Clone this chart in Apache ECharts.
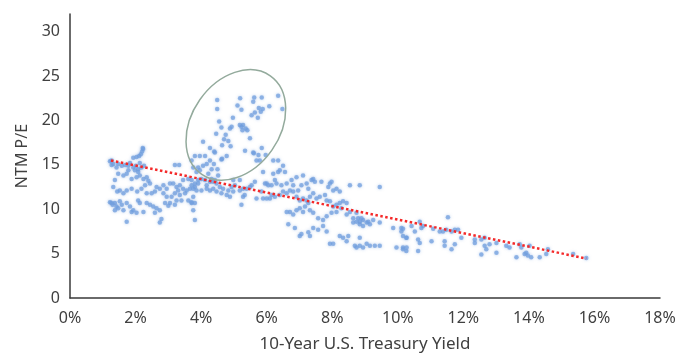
<!DOCTYPE html>
<html>
<head>
<meta charset="utf-8">
<script src="https://cdn.jsdelivr.net/npm/echarts@6/dist/echarts.min.js"></script>
<style>
  html, body { margin: 0; padding: 0; background: #ffffff; }
  #chart { width: 684px; height: 358px; }
</style>
</head>
<body>
<div id="chart"></div>
<script>
// Monthly observations: [10-year Treasury yield (%), forward 12-month P/E]

// Low-yield years, 1% to 3%
const lowYieldObs = [
  [1.22,15.4],[1.27,15.5],[1.27,15.0],[1.32,15.1],[1.47,15.1],[1.58,14.9],[1.68,15.0],[1.78,14.9],
  [1.83,15.2],[1.93,14.7],[2.01,14.9],[2.08,14.5],[2.18,14.7],[2.26,14.9],[2.13,15.2],[1.93,15.8],
  [2.03,15.9],[2.11,16.0],[2.16,16.2],[2.20,16.5],[2.23,16.8],[2.22,16.9],[1.42,14.7],[1.78,14.4],
  [1.98,14.4],[2.08,14.2],[1.47,14.0],[1.63,13.8],[1.73,14.0],[1.88,13.4],[2.03,13.6],[2.13,13.8],
  [2.24,13.4],[2.34,13.6],[2.39,13.2],[2.44,12.9],[2.29,12.7],[2.18,12.3],[2.05,12.0],[1.88,12.3],
  [1.73,12.1],[1.63,11.8],[1.52,12.1],[1.44,12.0],[2.34,11.8],[2.49,11.8],[2.59,12.0],[2.64,12.5],
  [2.74,12.3],[2.85,12.7],[2.95,12.3],[1.37,13.3],[1.32,12.5],[1.22,10.8],[1.27,10.7],[1.37,10.7],
  [1.42,10.3],[1.52,10.9],[1.58,10.5],[1.73,10.7],[1.63,9.9],[1.37,9.9],[1.88,9.7],[2.03,9.6],
  [2.24,9.7],[2.34,10.7],[2.44,10.5],[2.54,10.3],[2.64,10.1],[2.74,9.9],[2.59,9.6],[2.74,8.5],
  [2.79,8.9],[1.73,8.6],[1.93,9.9],[2.08,11.0],[2.13,10.7],[1.30,10.5],[1.47,10.1],[1.83,10.3]
];

// Yields between 3% and 4.8%, below the highlighted area
const midYieldObs = [
  [3.15,12.9],[3.25,12.5],[3.35,12.7],[3.45,12.3],[3.30,12.1],[3.20,11.8],[3.10,11.4],[3.35,11.6],
  [3.51,11.8],[3.56,12.1],[3.66,12.3],[3.71,12.7],[3.81,12.5],[3.86,12.1],[3.76,11.4],[3.61,11.0],
  [3.40,11.0],[3.25,11.0],[3.05,10.7],[2.95,11.4],[2.85,11.8],[2.90,10.7],[3.00,10.4],[3.20,10.5],
  [3.71,10.7],[3.81,10.7],[3.81,8.8],[3.05,12.9],[3.91,12.9],[3.45,13.3],[3.61,13.4],[3.20,15.0],
  [3.33,15.0],[3.81,16.0],[3.96,16.0],[4.12,16.0],[4.27,15.5],[4.17,15.1],[4.06,14.9],[3.91,14.7],
  [3.76,14.7],[4.62,15.6],[4.42,16.4],[4.32,13.4],[4.27,13.1],[4.17,12.7],[4.12,13.3],[4.01,13.4],
  [3.91,13.3],[3.81,12.9],[3.71,13.3],[3.76,12.3],[4.01,12.1],[4.17,12.3],[4.27,12.1],[4.37,12.3],
  [4.47,12.0],[4.62,11.8],[4.37,13.1],[4.42,13.3],[4.47,12.9],[4.57,12.5],[4.67,12.3],[3.76,9.9],
  [3.71,10.8],[4.22,14.0],[4.52,13.8],[3.86,14.2],[3.71,15.5],[4.32,14.5],[4.39,15.1],[4.50,14.5],
  [3.96,14.4]
];

// Elevated multiples at 4% to 6.5% yields (circled)
const richValuationObs = [
  [4.49,22.3],[4.49,21.3],[5.19,22.5],[5.11,21.7],[5.23,21.2],[5.62,22.6],[5.85,22.6],[5.59,22.1],
  [5.76,21.4],[5.88,21.3],[5.82,21.0],[5.64,20.9],[5.54,20.6],[5.73,20.3],[6.08,21.6],[6.35,22.8],
  [6.48,21.3],[4.55,19.9],[4.62,19.2],[4.97,20.3],[4.88,19.1],[4.93,19.3],[5.18,19.5],[5.23,19.3],
  [5.28,19.5],[5.36,19.1],[5.41,18.9],[5.26,18.9],[5.49,18.0],[4.46,18.5],[4.70,17.9],[4.75,18.4],
  [4.83,17.7],[4.64,17.2],[4.90,17.1],[4.06,17.6],[4.27,16.9],[4.40,16.5],[5.34,16.6],[5.85,16.9],
  [5.61,16.3],[5.75,16.1],[5.97,16.1],[5.79,15.5],[4.78,16.0],[4.64,15.7],[5.59,16.4],[5.69,15.5]
];

// Yields between 4.8% and 10%
const upperYieldObs = [
  [4.98,13.3],[5.18,13.3],[5.03,12.7],[4.93,12.5],[4.83,12.1],[4.98,12.0],[5.18,12.1],[5.28,12.3],
  [5.39,12.3],[5.49,12.5],[5.54,12.7],[5.64,13.1],[4.78,11.6],[4.88,11.4],[5.28,11.4],[5.33,11.6],
  [5.69,11.2],[5.23,10.5],
  [5.89,14.2],[5.95,12.9],[6.05,12.7],[6.20,14.0],[6.25,13.3],[6.35,14.2],[6.40,14.4],[6.56,14.2],
  [6.50,14.9],[6.35,15.5],[6.20,15.5],[6.00,12.9],[6.15,12.7],[6.30,12.9],[6.45,12.7],[6.61,12.9],
  [6.76,13.3],[6.81,12.7],[6.91,13.6],[7.06,12.7],[7.11,13.8],[7.22,12.9],[7.27,12.3],[7.37,13.3],
  [7.42,13.4],[7.47,13.1],[7.67,13.1],[7.93,12.9],[7.98,13.1],[8.13,12.3],[8.23,12.0],[8.54,12.7],
  [8.84,12.7],[9.45,12.5],[7.88,12.5],[8.03,12.1],[6.96,12.1],[6.81,12.0],[6.71,12.1],[6.61,11.8],
  [6.50,12.0],[6.40,11.6],[6.25,11.4],[6.10,11.2],[6.00,11.2],[5.89,11.2],[5.84,12.0],[6.15,11.6],
  [6.91,11.4],[7.01,11.0],[7.11,11.2],[7.22,11.0],[7.32,11.4],[7.42,11.8],[7.52,11.2],[7.62,11.4],
  [7.78,11.6],[7.83,11.0],[7.93,10.9],[8.03,10.3],[8.13,10.5],[8.23,10.7],[8.33,10.9],[8.44,10.7],
  [8.28,10.1],[8.13,9.7],[7.98,9.6],[7.83,9.2],[7.72,8.8],[7.57,9.0],[7.42,9.6],[7.32,9.9],
  [7.27,10.7],[7.17,10.3],[7.11,9.7],[7.01,10.1],[6.91,9.9],[6.71,9.7],[6.61,9.7],[6.81,9.4],
  [8.44,9.4],[8.54,9.7],[8.64,9.0],[8.74,9.6],[8.79,9.0],[8.84,8.6],[8.89,9.0],[8.94,8.8],
  [9.05,8.5],[9.10,8.6],[9.15,8.3],[9.25,8.8],[9.45,8.5],[8.84,8.3],[8.74,8.6],[8.64,8.5],
  [8.94,8.1],[6.66,8.3],[6.86,7.9],[7.01,7.0],[7.06,7.2],[7.27,7.4],[7.32,7.0],[7.42,7.9],
  [7.57,7.7],[7.72,8.1],[7.83,7.5],[7.93,6.1],[8.03,6.1],[8.23,7.0],[8.33,6.8],[8.44,6.4],
  [8.49,7.0],[8.84,6.8],[8.69,5.9],[8.74,5.7],[8.84,5.9],[8.94,5.7],[9.05,6.1],[9.15,5.9],
  [9.30,5.9],[9.45,5.9],[9.86,7.9],[9.96,5.7]
];

// High-yield years, above 10%
const highYieldObs = [
  [10.11,7.5],[10.16,7.0],[10.26,6.8],[10.16,5.7],[10.26,5.3],
  [10.11,7.9],[10.16,7.8],[10.27,6.8],[10.16,5.5],[10.27,5.7],[10.42,8.1],[10.52,7.5],[10.62,6.6],
  [10.67,6.2],[10.62,5.3],[10.67,8.6],[10.72,7.9],[10.77,8.1],[11.03,6.4],[11.08,7.8],[11.28,7.5],
  [11.53,9.1],[11.38,7.5],[11.48,7.7],[11.64,7.5],[11.74,7.7],[11.84,7.7],[11.43,6.4],[11.43,5.9],
  [11.64,5.5],[11.74,6.05],[11.94,6.8],[12.35,6.6],[12.35,6.2],[12.55,6.6],[12.65,6.8],[12.65,5.9],
  [12.70,5.5],[12.80,6.05],[12.55,4.9],[13.01,6.2],[13.01,5.1],[13.31,5.9],[13.41,5.7],[13.62,4.6],
  [13.72,6.05],[13.77,5.7],[13.87,4.95],[13.92,5.1],[13.97,4.8],[14.02,5.9],[14.07,4.6],[14.33,4.6],
  [14.53,4.95],[14.58,5.5],[15.35,4.95],[15.75,4.5]
];

// Linear trend line end points
const trendYield = [1.25, 15.75];
const trendPE = [15.5, 4.45];

// Centre of the circled region
const highlightCenter = [5.06, 19.5];

// Axis ticks
const xTicks = [0, 2, 4, 6, 8, 10, 12, 14, 16, 18];
const yTicks = [0, 5, 10, 15, 20, 25, 30];

const allObs = [].concat(lowYieldObs, midYieldObs, richValuationObs, upperYieldObs, highYieldObs);

const FONT = 'Noto Sans';
const TEXT = '#404040';

const chart = echarts.init(document.getElementById('chart'), null, { renderer: 'canvas' });

chart.setOption({
  animation: false,
  backgroundColor: '#ffffff',
  grid: { left: 70, right: 24, top: 14, bottom: 55, containLabel: false },
  xAxis: {
    type: 'value',
    min: xTicks[0],
    max: xTicks[xTicks.length - 1],
    interval: xTicks[1] - xTicks[0],
    name: '10-Year U.S. Treasury Yield',
    nameLocation: 'middle',
    nameGap: 38,
    nameTextStyle: { fontFamily: FONT, fontSize: 17, color: TEXT },
    axisLine: { show: true, lineStyle: { color: '#3a3a3a', width: 1.5 } },
    axisTick: { show: false },
    splitLine: { show: false },
    axisLabel: {
      fontFamily: FONT, fontSize: 16, color: TEXT, margin: 12,
      formatter: v => v + '%'
    }
  },
  yAxis: {
    type: 'value',
    min: yTicks[0],
    max: 32,
    interval: yTicks[1] - yTicks[0],
    name: 'NTM P/E',
    nameLocation: 'middle',
    nameGap: 38,
    nameTextStyle: { fontFamily: FONT, fontSize: 16, color: TEXT },
    axisLine: { show: true, lineStyle: { color: '#3a3a3a', width: 1.5 } },
    axisTick: { show: false },
    splitLine: { show: false },
    axisLabel: {
      fontFamily: FONT, fontSize: 16, color: TEXT, margin: 10,
      formatter: v => (yTicks.indexOf(v) >= 0 ? String(v) : '')
    }
  },
  series: [
    {
      type: 'scatter',
      data: allObs,
      symbolSize: 4.5,
      itemStyle: {
        color: 'rgba(112,158,222,0.9)',
        shadowBlur: 3,
        shadowColor: 'rgba(112,158,222,0.7)'
      },
      z: 2
    },
    {
      type: 'line',
      data: trendYield.map((x, i) => [x, trendPE[i]]),
      symbol: 'none',
      lineStyle: { color: '#f42a2a', width: 2.5, type: [2.5, 2.5] },
      z: 3
    },
    {
      type: 'custom',
      data: [highlightCenter],
      silent: true,
      z: 4,
      renderItem: function (params, api) {
        const c = api.coord([api.value(0), api.value(1)]);
        return {
          type: 'ellipse',
          shape: { cx: c[0], cy: c[1], rx: 44, ry: 60 },
          originX: c[0],
          originY: c[1],
          rotation: -35 * Math.PI / 180,
          style: { fill: 'none', stroke: '#93aa9c', lineWidth: 1.5 }
        };
      }
    }
  ]
});
</script>
</body>
</html>
